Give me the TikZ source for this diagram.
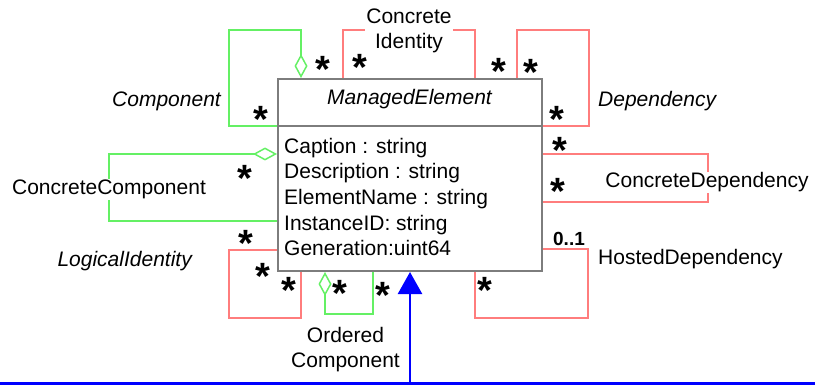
\documentclass[tikz,border=0pt]{standalone}
\usepackage{fontspec}
\setmainfont{Liberation Sans}
\usepackage{tikz}
\usetikzlibrary{arrows.meta}
\definecolor{assocred}{RGB}{255,125,125}
\definecolor{aggrgreen}{RGB}{100,240,100}
\definecolor{boxgray}{RGB}{125,125,125}
\newcommand{\umlfont}{\fontsize{21}{25}\selectfont}
\tikzset{
  every node/.style={font=\umlfont},
  classbox/.style={draw=boxgray, line width=2pt, minimum width=264pt, minimum height=192pt, inner sep=0pt},
  assoc/.style={draw=assocred, line width=1.5pt},
  aggr/.style={draw=aggrgreen, line width=1.5pt, -{Diamond[open, length=24pt, width=13pt]}},
  inherit/.style={draw=blue, line width=2.5pt, -{Triangle[length=22pt, width=24pt]}},
  mult/.style={font=\bfseries\fontsize{38}{38}\selectfont, inner sep=0pt, yshift=-7.4pt},
  rolename/.style={font=\umlfont\itshape, inner sep=0pt},
  onwire/.style={fill=white, inner sep=1pt}
}

\begin{document}
\begin{tikzpicture}[x=1pt, y=-1pt]
  \useasboundingbox (0,0) rectangle (815,385);

  % the class
  \node[classbox, anchor=north west] (me) at (277,78) {};
  \draw[boxgray, line width=2pt] (me.west |- 0,126) -- (me.east |- 0,126);
  \node[rolename, anchor=base] (metitle) at (409.5,105) {ManagedElement};
  \foreach \t [count=\i] in {Caption : string, Description : string, ElementName : string, InstanceID: string, Generation:uint64}
    \node[anchor=base west, inner sep=0pt] (attr\i) at (284,153.3+25.6*\i-25.6) {\t};

  % aggregations
  \draw[aggr] (me.west |- 0,126) -| (229,30) -| (me.north -| 301,0);
  \draw[aggr] (me.west |- 0,221) -| (109,154) -- (me.west |- 0,154);
  \draw[aggr] (me.south -| 373,0) |- (325,314) -- (me.south -| 325,0);

  % associations
  \draw[assoc] (me.north -| 343,0) |- (475,30) -- (me.north -| 475,0);
  \draw[assoc] (me.north -| 517,0) |- (589,30) |- (me.east |- 0,126);
  \draw[assoc] (me.east |- 0,154) -| (708,202) -- (me.east |- 0,202);
  \draw[assoc] (me.west |- 0,250) -| (229,318) -| (me.south -| 301,0);
  \draw[assoc] (me.east |- 0,249) -| (588,318) -| (me.south -| 475,0);

  % inheritance from below
  \coordinate (busW) at (0,383.5);
  \coordinate (busE) at (815,383.5);
  \draw[blue, line width=2.5pt] (busW) -- (busE);
  \draw[inherit] (busW -| me.south) -- (me.south);

  % names of the links
  \node[rolename, anchor=base east] (lcomp) at (221,107) {Component};
  \node[rolename, anchor=base west] (ldep) at (598,107) {Dependency};
  \node[rolename, anchor=base east] (llogid) at (192,267) {LogicalIdentity};
  \node[onwire, align=center] (lconcid) at (409,31.2) {Concrete\\Identity};
  \node[onwire, anchor=base] (lconccomp) at (109,195) {ConcreteComponent};
  \node[onwire, anchor=base] (lconcdep) at (707,188) {ConcreteDependency};
  \node[anchor=base west, inner sep=0pt] (lhosted) at (598,265) {HostedDependency};
  \node[align=center, inner sep=0pt] (lordcomp) at (345.5,349.7) {Ordered\\Component};

  % multiplicities
  \foreach \x/\y [count=\i] in {323/62, 360/60, 499/64, 531/65, 261/112, 557/112,
      560/143, 558/184, 245/171, 246/236, 263/269, 289/283, 340/286, 383/288, 485/283}
    \node[mult] (mult\i) at (\x,\y) {*};
  \node[font=\bfseries\fontsize{19}{19}\selectfont, anchor=base, inner sep=0pt] (mhosted) at (569,246) {0..1};
\end{tikzpicture}
\end{document}
